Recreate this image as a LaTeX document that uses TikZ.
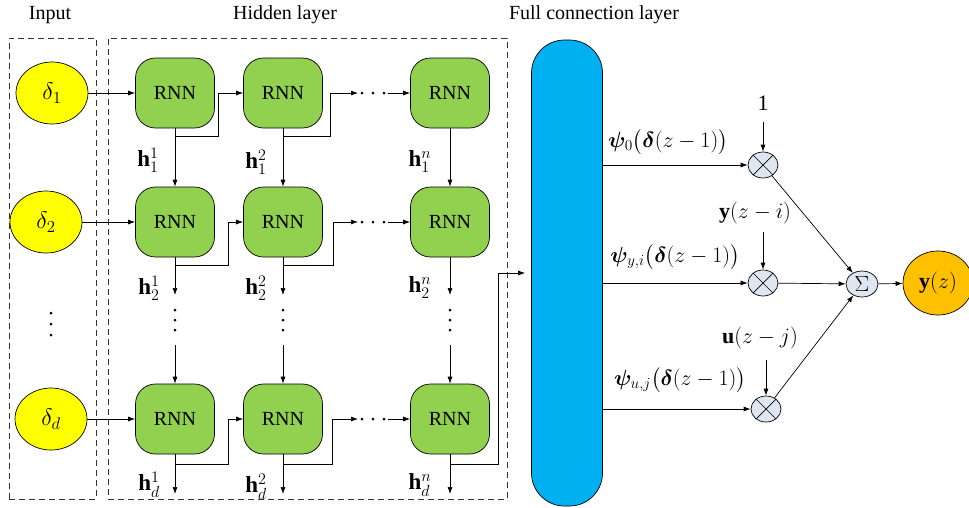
\documentclass[tikz,border=0pt]{standalone}
\usepackage{fix-cm}
\usepackage{amsmath}
\usepackage{bm}
\usepackage{fontspec}
\setmainfont{Liberation Serif}
\usetikzlibrary{shapes.geometric,arrows.meta,calc}
\definecolor{rnngreen}{HTML}{92D050}
\definecolor{inyellow}{HTML}{FFFF00}
\definecolor{outorange}{HTML}{FFC000}
\definecolor{fcblue}{HTML}{00B0F0}
\definecolor{multfill}{HTML}{DEE6F2}
\begin{document}
\begin{tikzpicture}[x=1pt,y=-1pt,
  font=\fontsize{20}{24}\selectfont,
  line width=0.7pt,
  arr/.style={-{Latex[length=7pt,width=5pt]}},
  rnn/.style={draw, rounded corners=20pt, fill=rnngreen, minimum width=79pt, minimum height=70pt, inner sep=0pt},
  inp/.style={ellipse, draw, fill=inyellow, minimum width=72pt, minimum height=62pt, inner sep=0pt, font=\fontsize{24}{28}\selectfont},
  mult/.style={ellipse, draw, fill=multfill, minimum width=30pt, minimum height=26pt, inner sep=0pt},
  dbox/.style={draw=black!80, dash pattern=on 6pt off 4pt, line width=0.7pt, inner sep=0pt},
  lab/.style={inner sep=1pt},
  mlab/.style={inner sep=1pt, font=\fontsize{22}{26}\selectfont},
  hlab/.style={inner sep=0pt, font=\fontsize{23}{27}\selectfont}
]
\useasboundingbox (0,0) rectangle (969,507);

% titles
\node[lab] (tin) at (50,15) {Input};
\node[lab] (thid) at (285,15) {Hidden layer};
\node[lab] (tfc) at (594,15) {Full connection layer};

% dashed boxes
\node[dbox, minimum width=87pt, minimum height=461pt] (inbox) at (52.5,268.5) {};
\node[dbox, minimum width=399pt, minimum height=461pt] (hidbox) at (307.5,268.5) {};

% inputs
\node[inp] (in1) at (52,93) {$\delta_1$};
\node[inp] (in2) at (46,222) {$\delta_2$};
\node[inp] (ind) at (51,419) {$\delta_d$};
\coordinate (vin) at (51,324);
\foreach \yy in {-11,0,11} \fill ($(vin)+(0,\yy)$) circle (1.5pt);

% RNN cells
\node[rnn] (r11) at (175,93) {RNN};
\node[rnn] (r12) at (283,93) {RNN};
\node[rnn] (r13) at (450,93) {RNN};
\node[rnn] (r21) at (175,222) {RNN};
\node[rnn] (r22) at (283,222) {RNN};
\node[rnn] (r23) at (450,222) {RNN};
\node[rnn] (r31) at (175,419) {RNN};
\node[rnn] (r32) at (283,419) {RNN};
\node[rnn] (r33) at (450,419) {RNN};

% horizontal dots (ends of the dotted gaps)
\foreach \n/\yy in {1/93,2/222,3/419} {
  \coordinate (d\n w) at (358,\yy);
  \coordinate (d\n e) at (388,\yy);
  \foreach \xx in {362,373,384} \fill (\xx,\yy) circle (1.5pt);
}

% vertical dots (ends of the dotted gaps)
\foreach \n/\xx in {1/175,2/283,3/450} {
  \coordinate (v\n t) at (\xx,295);
  \coordinate (v\n b) at (\xx,345);
  \foreach \yy in {310,320,330} \fill (\xx,\yy) circle (1.5pt);
}

% end coordinates of bottom arrows
\coordinate (e1) at (175,494);
\coordinate (e2) at (283,494);
\coordinate (e3) at (450,494);
\coordinate (t3) at (498,273);

% input arrows
\draw[arr] (in1.east) -- (r11.west);
\draw[arr] (in2.east) -- (r21.west);
\draw[arr] (ind.east) -- (r31.west);

% vertical arrows
\draw[arr] (r11) -- (r21);
\draw[arr] (r12) -- (r22);
\draw[arr] (r13) -- (r23);
\draw[arr] (r21.south) -- (v1t);
\draw[arr] (r22.south) -- (v2t);
\draw[arr] (r23.south) -- (v3t);
\draw[arr] (v1b) -- (r31.north);
\draw[arr] (v2b) -- (r32.north);
\draw[arr] (v3b) -- (r33.north);
\draw[arr] (r31.south) -- (e1);
\draw[arr] (r32.south) -- (e2);
\draw[arr] (r33.south) -- (e3);

% recurrent branches
\draw[arr] ($(r11.south)+(0,8)$) -| ($(r11.east)+(3,0)$) -- (r12.west);
\draw[arr] ($(r12.south)+(0,8)$) -| ($(r12.east)+(7,0)$) -- (d1w);
\draw[arr] (d1e) -- (r13.west);
\draw[arr] ($(r21.south)+(0,8)$) -| ($(r21.east)+(13,0)$) -- (r22.west);
\draw[arr] ($(r22.south)+(0,8)$) -| ($(r22.east)+(10,0)$) -- (d2w);
\draw[arr] (d2e) -- (r23.west);
\draw[arr] ($(r31.south)+(0,10)$) -| ($(r31.east)+(13,0)$) -- (r32.west);
\draw[arr] ($(r32.south)+(0,10)$) -| ($(r32.east)+(9,0)$) -- (d3w);
\draw[arr] (d3e) -- (r33.west);

% h labels
\node[hlab] (h11) at (148,160) {$\mathbf{h}_1^1$};
\node[hlab] (h12) at (256,162) {$\mathbf{h}_1^2$};
\node[hlab] (h13) at (420,162) {$\mathbf{h}_1^n$};
\node[hlab] (h21) at (149,288) {$\mathbf{h}_2^1$};
\node[hlab] (h22) at (256,288) {$\mathbf{h}_2^2$};
\node[hlab] (h23) at (420,288) {$\mathbf{h}_2^n$};
\node[hlab] (h31) at (149,485) {$\mathbf{h}_d^1$};
\node[hlab] (h32) at (256,487) {$\mathbf{h}_d^2$};
\node[hlab] (h33) at (420,485) {$\mathbf{h}_d^n$};

% full connection layer
\node[draw, fill=fcblue, rounded corners=33pt, minimum width=71pt, minimum height=466pt, inner sep=0pt] (fc) at (567,273) {};
\draw[arr, shorten >=6pt] ($(r33.south)+(0,10)$) -| (t3) -- (t3 -| fc.west);

% multipliers
\node[mult] (m1) at (763,165) {};
\node[mult] (m2) at (763,283) {};
\node[mult] (m3) at (766,409) {};
\foreach \m in {m1,m2,m3} {
  \draw (\m.45) -- (\m.225);
  \draw (\m.135) -- (\m.315);
}
\node[mult, minimum width=32pt, font=\fontsize{22}{26}\selectfont] (sum) at (862,284) {$\Sigma$};
\node[ellipse, draw, fill=outorange, minimum width=70pt, minimum height=64pt, inner sep=0pt, font=\fontsize{22}{26}\selectfont] (out) at (938,283) {$\mathbf{y}(z)$};

% labels on the right
\node[mlab] (one) at (763,103) {1};
\node[mlab] (yzi) at (755,213) {$\mathbf{y}(z-i)$};
\node[mlab] (uzj) at (760,338) {$\mathbf{u}(z-j)$};
\node[mlab] (p0) at (668,142) {$\bm{\psi}_0\big(\bm{\delta}(z-1)\big)$};
\node[mlab] (pyi) at (675,257) {$\bm{\psi}_{y,i}\big(\bm{\delta}(z-1)\big)$};
\node[mlab] (puj) at (680,380) {$\bm{\psi}_{u,j}\big(\bm{\delta}(z-1)\big)$};
\coordinate (a1) at (763,122);
\coordinate (a2) at (763,232);
\coordinate (a3) at (766,360);
\draw[arr] (a1) -- (m1);
\draw[arr] (a2) -- (m2);
\draw[arr] (a3) -- (m3);

% fc outputs
\draw[arr] (fc.east |- m1) -- (m1);
\draw[arr] (fc.east |- m2) -- (m2);
\draw[arr] (fc.east |- m3) -- (m3);

% to sum and output
\draw[arr] (m1) -- (sum);
\draw[arr] (m2) -- (sum);
\draw[arr] (m3) -- (sum);
\draw[arr] (sum) -- (out);
\end{tikzpicture}
\end{document}
